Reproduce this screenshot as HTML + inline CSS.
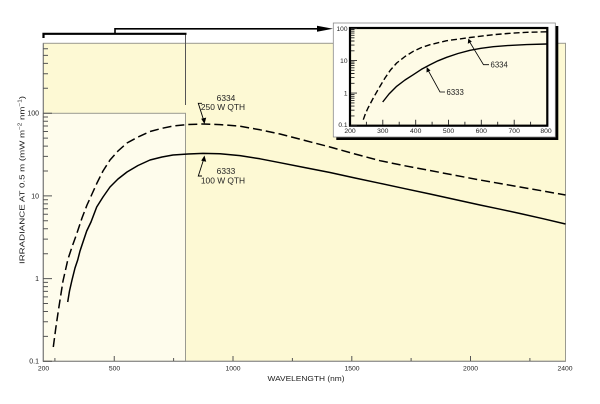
<!DOCTYPE html>
<html><head><meta charset="utf-8"><style>
html,body{margin:0;padding:0;background:#fff;}
svg{display:block;}
text{font-family:"Liberation Sans",Arial,sans-serif;fill:#222;}
</style></head><body>
<svg width="600" height="404" viewBox="0 0 600 404" xmlns="http://www.w3.org/2000/svg">
<!-- main yellow area -->
<rect x="43.3" y="43.3" width="522.2" height="318" fill="#fdf9d4" stroke="#9a9a90" stroke-width="1"/>
<!-- lighter 200-800 region -->
<rect x="43.3" y="113.3" width="142.2" height="248" fill="#fefcec" stroke="#9a9a90" stroke-width="1"/>
<line x1="43.3" y1="43.3" x2="43.3" y2="361.3" stroke="#777" stroke-width="1"/>
<line x1="43.3" y1="361.3" x2="565.5" y2="361.3" stroke="#888" stroke-width="1"/>
<!-- vertical connector -->
<line x1="185.5" y1="33.5" x2="185.5" y2="105" stroke="#555" stroke-width="1"/>
<!-- bracket -->
<path d="M43.5,38 L43.5,33.8 L186.5,33.8" fill="none" stroke="#000" stroke-width="2.2"/>
<path d="M115,34 L115,28.8 L320,28.8" fill="none" stroke="#000" stroke-width="1.6"/>
<polygon points="317,25.8 333,28.8 317,31.8" fill="#000"/>

<!-- main y ticks -->
<g stroke="#555" stroke-width="1">
<path d="M43,361.3h9M43,278.6h9M43,195.9h9M43,113.2h9"/>
<path d="M43,336.4h5M43,321.8h5M43,311.5h5M43,303.5h5M43,296.9h5M43,291.4h5M43,286.6h5M43,282.4h5
M43,253.7h5M43,239.1h5M43,228.8h5M43,220.8h5M43,214.2h5M43,208.7h5M43,203.9h5M43,199.7h5
M43,171h5M43,156.4h5M43,146.1h5M43,138.1h5M43,131.5h5M43,126h5M43,121.2h5M43,117h5
M43,88.3h5M43,73.7h5M43,63.4h5M43,55.4h5M43,48.8h5"/>
<!-- main x ticks -->
<path d="M114.25,361v-5M233,361v-5M351.8,361v-5M470.5,361v-5"/>
<path d="M54.9,361v-3M173.6,361v-3M292.4,361v-3M411.1,361v-3M529.9,361v-3"/>
</g>
<g font-size="7" text-anchor="end">
<text x="39" y="115.5">100</text>
<text x="39" y="198.3">10</text>
<text x="39" y="281">1</text>
<text x="39" y="363.7">0.1</text>
</g>
<g font-size="6.8" text-anchor="middle">
<text x="43.5" y="370.5">200</text>
<text x="114.5" y="370.5">500</text>
<text x="233" y="370.5">1000</text>
<text x="352" y="370.5">1500</text>
<text x="470.5" y="370.5">2000</text>
<text x="565" y="370.5">2400</text>
</g>
<text x="306" y="381" font-size="7.6" text-anchor="middle" textLength="77" lengthAdjust="spacingAndGlyphs">WAVELENGTH (nm)</text>
<text transform="translate(24.5,180) rotate(-90)" font-size="7.6" text-anchor="middle" textLength="168" lengthAdjust="spacingAndGlyphs">IRRADIANCE AT 0.5 m (mW m<tspan font-size="5" dy="-3">−2</tspan><tspan dy="3"> nm</tspan><tspan font-size="5" dy="-3">−1</tspan><tspan dy="3">)</tspan></text>

<!-- main curves -->
<polyline fill="none" stroke="#000" stroke-width="1.5" stroke-dasharray="9,4" stroke-linejoin="round"
points="53.3,347 55.8,328 58.3,311 63,281 68,259 72,247 77,233 82,218 87,205 92,194 97,183 103,171 110,160 118,151 127,143 138,137 150,131.5 162,128.3 173,126 188,124.5 203,124 220,124.6 240,126.2 260,129.8 280,134 305,140.5 330,147 355,154 380,160.7 405,165.8 430,170.5 455,175.3 480,180 500,183.5 520,187 543,191 565.5,195"/>
<polyline fill="none" stroke="#000" stroke-width="1.5" stroke-linejoin="round"
points="67.7,302 69.5,291 72,280 75,268 77.7,260 80,251 83,242 86.7,231 91,222 96.7,207 103,197 110,187 118,179 127,172 138,165.5 150,160 162,157 173,155 188,154 203,153.4 220,153.8 240,155.6 260,158.8 280,162.7 305,167.6 330,172.5 355,178 380,183.3 405,188.7 430,194 455,199.5 480,205 500,209.2 520,213.5 543,218.7 565.5,224"/>

<!-- annotations main -->
<g stroke="#000" stroke-width="0.9" fill="none">
<path d="M202,103.3 L198.3,103.3 L203.6,120"/>
<path d="M202,176 L198.3,176 L203.6,159.5"/>
</g>
<polygon points="201.2,118.8 206.2,117.6 204.5,124" fill="#000"/>
<polygon points="201.2,160.6 206.2,161.8 204.5,155.5" fill="#000"/>
<g font-size="8.4" text-anchor="middle">
<text x="226" y="100.8">6334</text>
<text x="223" y="110">250 W QTH</text>
<text x="226" y="174.2">6333</text>
<text x="223" y="183.4">100 W QTH</text>
</g>

<!-- inset -->
<rect x="336.3" y="26" width="222" height="114" fill="#000"/>
<rect x="333.3" y="23" width="222" height="114" fill="#fff" stroke="#8a8a8a" stroke-width="0.8"/>
<rect x="350" y="28" width="197.3" height="97.7" fill="#fefbe6" stroke="#000" stroke-width="2.2"/>
<g stroke="#222" stroke-width="0.9">
<path d="M351,125.7h6M351,93.1h6M351,60.6h6M351,28.5h6"/>
<path d="M351,115.9h3.5M351,110.2h3.5M351,106.1h3.5M351,102.9h3.5M351,100.4h3.5M351,98.2h3.5M351,96.3h3.5M351,94.6h3.5
M351,83.3h3.5M351,77.6h3.5M351,73.5h3.5M351,70.3h3.5M351,67.8h3.5M351,65.6h3.5M351,63.7h3.5M351,62h3.5
M351,50.8h3.5M351,45.1h3.5M351,41h3.5M351,37.8h3.5M351,35.3h3.5M351,33.1h3.5M351,31.2h3.5M351,29.5h3.5"/>
<path d="M382.8,124.7v-5M415.7,124.7v-5M448.5,124.7v-5M481.3,124.7v-5M514.2,124.7v-5"/>
<path d="M366.4,124.7v-3M399.2,124.7v-3M432.1,124.7v-3M464.9,124.7v-3M497.7,124.7v-3M530.6,124.7v-3"/>
</g>
<g font-size="6.6" text-anchor="end">
<text x="347.5" y="31">100</text>
<text x="347.5" y="63">10</text>
<text x="347.5" y="95.5">1</text>
<text x="347.5" y="127">0.1</text>
</g>
<g font-size="6.8" text-anchor="middle">
<text x="350" y="133">200</text>
<text x="382.8" y="133">300</text>
<text x="415.7" y="133">400</text>
<text x="448.5" y="133">500</text>
<text x="481.3" y="133">600</text>
<text x="514.2" y="133">700</text>
<text x="546" y="133">800</text>
</g>
<polyline fill="none" stroke="#000" stroke-width="1.4" stroke-dasharray="6,3" stroke-linejoin="round"
points="363.3,119.7 365.5,113.5 368,108 373.3,98 379,88 385,78 390.5,70 396.7,63 405,56.5 413.3,51.3 421.5,47.5 430,44.7 446.7,40.7 470,37.5 493.3,34.7 510,33.3 526.7,32.3 546.7,31.8"/>
<polyline fill="none" stroke="#000" stroke-width="1.4" stroke-linejoin="round"
points="382.7,102 389,94 396.7,86.3 405,80 413.3,74.7 421.5,69.3 430,64.7 438,60.8 446.7,57.3 458,53.5 470,50.3 481,48.3 493.3,46.7 510,45.4 526.7,44.6 546.7,44"/>
<g stroke="#000" stroke-width="0.8" fill="none">
<path d="M445,92 L440,92 L428.5,71"/>
<path d="M489,64.7 L483.5,64.7 L470,42.5"/>
</g>
<polygon points="426.5,72.5 430.5,70.5 426.7,67" fill="#000"/>
<polygon points="467.8,43.8 471.8,41.6 468.3,38.5" fill="#000"/>
<g font-size="7.8" text-anchor="start">
<text x="446.5" y="95">6333</text>
<text x="490.5" y="67.7">6334</text>
</g>
</svg>
</body></html>
